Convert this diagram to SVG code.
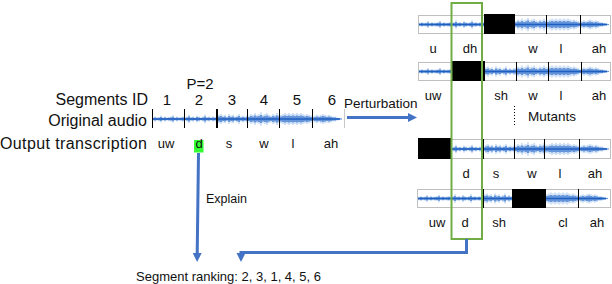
<svg xmlns="http://www.w3.org/2000/svg" xmlns:xlink="http://www.w3.org/1999/xlink" width="612" height="284" viewBox="0 0 612 284">
<style>
text{font-family:"Liberation Sans",Arial,sans-serif;fill:#111}
.lbl{font-size:16px;text-anchor:end}
.num{font-size:15px;text-anchor:middle}
.ph{font-size:13px;text-anchor:middle}
.sm{font-size:13.5px}
.halo{fill:none;stroke:#6a9edf;stroke-width:1.2;opacity:.5}
.core{fill:none;stroke:#1f63c9;stroke-width:1.2}
.mid{fill:none;stroke:#1f5fbf;stroke-width:1.6}
.sep{stroke:#000;stroke-width:1}
.box{fill:#fff;stroke:#bfbfbf;stroke-width:1}
.blk{fill:#000}
.arr{fill:none;stroke:#4472c4;stroke-width:3;marker-end:url(#ah)}
.grn{fill:none;stroke:#70ad47;stroke-width:2}
</style>
<defs>
<marker id="ah" markerUnits="userSpaceOnUse" markerWidth="10" markerHeight="10" refX="1" refY="4.5" orient="auto">
<path d="M0,0L9,4.5L0,9z" fill="#4472c4"/>
</marker>
<path id="wp" d="M1,-2V2M3,-3V3M5,-2V2M7,-2.5V2.5M9,-4V4M11,-2V2M13,-3V3M15,-2V2M17,-2.5V2.5M19,-3V3M21,-4.5V4.5M23,-2V2M25,-3V3M27,-2V2M29,-2.5V2.5M31,-3V3M33,-2V2M35,-3V3M37,-5V5M39,-2.5V2.5M41,-3V3M43,-2V2M45,-4V4M47,-3V3M49,-2V2M51,-3V3M53,-5V5M55,-2.5V2.5M57,-3V3M59,-2V2M61,-3V3M63,-2.5V2.5M65,-3V3M67,-5V5M69,-6V6M71,-4V4M73,-5V5M75,-3V3M77,-6V6M79,-4V4M81,-5V5M83,-3V3M85,-4V4M87,-6V6M89,-3V3M91,-4V4M93,-3V3M95,-4V4M97,-4V4M99,-6V6M101,-5V5M103,-7V7M105,-5V5M107,-6V6M109,-8V8M111,-5V5M113,-6V6M115,-7V7M117,-5V5M119,-4V4M121,-6V6M123,-5V5M125,-7V7M127,-5V5M129,-5V5M131,-6V6M133,-7V7M135,-6V6M137,-7V7M139,-6V6M141,-7V7M143,-6V6M145,-7V7M147,-6V6M149,-7V7M151,-6V6M153,-5V5M155,-6V6M157,-5V5M159,-4V4M161,-3V3M163,-4V4M165,-5V5M167,-4V4M169,-5V5M171,-6V6M173,-5V5M175,-4V4M177,-5V5M179,-4V4M181,-3V3M183,-3V3M185,-2V2M187,-1.5V1.5M189,-1V1"/>
<g id="wave">
<use href="#wp" xlink:href="#wp" class="halo" transform="scale(1,0.85)"/>
<use href="#wp" xlink:href="#wp" class="core" transform="scale(1,0.5)"/>
<path d="M0,0H188" class="mid"/>
</g>
</defs>
<rect width="612" height="284" fill="#fff"/>

<g id="original">
<text x="200" y="89" class="num">P=2</text>
<text x="148" y="105" class="lbl">Segments ID</text>
<text x="167" y="105" class="num">1</text>
<text x="199" y="105" class="num">2</text>
<text x="232" y="105" class="num">3</text>
<text x="264" y="105" class="num">4</text>
<text x="297" y="105" class="num">5</text>
<text x="332" y="105" class="num">6</text>
<text x="147" y="126" class="lbl">Original audio</text>
<use href="#wave" xlink:href="#wave" transform="translate(152,119)"/>
<path class="sep" d="M152.5,109V128M184.5,109V128M247.5,109V128M279.5,109V128M312.5,109V128"/>
<path d="M217,109V128" stroke="#000" stroke-width="2"/>
<path d="M344.5,109V128" stroke="#c8c8c8" stroke-width="1"/>
<text x="0" y="149" style="font-size:16px" textLength="147">Output transcription</text>
<rect x="194" y="140" width="9.5" height="12.5" fill="#33ff33"/>
<text x="166" y="148" class="ph">uw</text>
<text x="199" y="148" class="ph">d</text>
<text x="229" y="148" class="ph">s</text>
<text x="264" y="148" class="ph">w</text>
<text x="293" y="148" class="ph">l</text>
<text x="331" y="148" class="ph">ah</text>
</g>

<g id="mutant1">
<rect x="418.5" y="15.5" width="192" height="18" class="box"/>
<use href="#wave" xlink:href="#wave" transform="translate(419,24.5)"/>
<rect x="484" y="14" width="31" height="20" class="blk"/>
<path class="sep" d="M451.5,15V34M546.5,15V34M580.5,15V34"/>
<text x="433" y="53" class="ph">u</text>
<text x="470" y="53" class="ph">dh</text>
<text x="533" y="53" class="ph">w</text>
<text x="561" y="53" class="ph">l</text>
<text x="599" y="53" class="ph">ah</text>
</g>

<g id="mutant2">
<rect x="418.5" y="62.5" width="192" height="18" class="box"/>
<use href="#wave" xlink:href="#wave" transform="translate(419,71.5)"/>
<rect x="451" y="61" width="34" height="20" class="blk"/>
<path class="sep" d="M516.5,62V81M548.5,62V81M581.5,62V81"/>
<text x="433" y="100" class="ph">uw</text>
<text x="501" y="100" class="ph">sh</text>
<text x="533" y="100" class="ph">w</text>
<text x="561" y="100" class="ph">l</text>
<text x="599" y="100" class="ph">ah</text>
</g>

<g id="mutants-label">
<path d="M514.5,106V126" stroke="#000" stroke-width="1" stroke-dasharray="1,2"/>
<text x="528" y="121" class="sm">Mutants</text>
</g>

<g id="mutant3">
<rect x="418.5" y="139.5" width="192" height="19" class="box"/>
<use href="#wave" xlink:href="#wave" transform="translate(419,149)"/>
<rect x="418" y="138" width="34" height="21" class="blk"/>
<path class="sep" d="M483.5,139V159M514.5,139V159M544.5,139V159M579.5,139V159"/>
<text x="466" y="178" class="ph">d</text>
<text x="496" y="178" class="ph">s</text>
<text x="532" y="178" class="ph">w</text>
<text x="560" y="178" class="ph">l</text>
<text x="595" y="178" class="ph">ah</text>
</g>

<g id="mutant4">
<rect x="417.5" y="189.5" width="193" height="18" class="box"/>
<use href="#wave" xlink:href="#wave" transform="translate(418,198.5)"/>
<rect x="512" y="189" width="34" height="19" class="blk"/>
<path class="sep" d="M451.5,189V208M483.5,189V208M578.5,189V208"/>
<text x="437" y="227" class="ph">uw</text>
<text x="465" y="227" class="ph">d</text>
<text x="499" y="227" class="ph">sh</text>
<text x="563" y="227" class="ph">cl</text>
<text x="597" y="227" class="ph">ah</text>
</g>

<g id="highlight">
<rect x="451.5" y="3" width="30.5" height="236" class="grn"/>
</g>

<g id="ranking">
<text x="136" y="281" style="font-size:13px">Segment ranking: 2, 3, 1, 4, 5, 6</text>
</g>

<g id="connectors">
<path class="arr" d="M347,117.5H409"/>
<text x="344" y="108" class="sm">Perturbation</text>
<path class="arr" d="M198.5,153L197.2,254"/>
<text x="206" y="203" style="font-size:12.5px">Explain</text>
<path class="arr" d="M466.5,239V252.5H241V254"/>
</g>
</svg>
